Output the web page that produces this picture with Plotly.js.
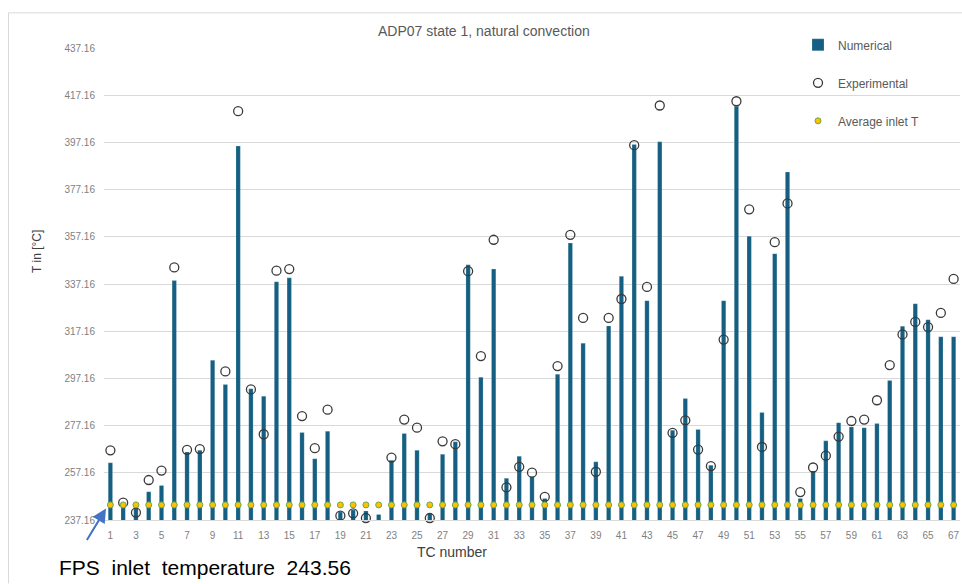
<!DOCTYPE html>
<html>
<head>
<meta charset="utf-8">
<script src="https://cdn.plot.ly/plotly-3.0.1.min.js"></script>
<style>html,body{margin:0;padding:0;background:#fff;}#chart{width:962px;height:584px;}</style>
</head>
<body>
<div id="chart"></div>
<script>
const tcNumbers = [1,2,3,4,5,6,7,8,9,10,11,12,13,14,15,16,17,18,19,20,21,22,23,24,25,26,27,28,29,30,31,32,33,34,35,36,37,38,39,40,41,42,43,44,45,46,47,48,49,50,51,52,53,54,55,56,57,58,59,60,61,62,63,64,65,66,67];

const numerical = [
  261.4, 244.2, 242.8, 249.1, 251.8, 338.6, 266.0, 266.7, 304.8, 294.6,
  395.6, 292.8, 289.6, 338.1, 339.8, 274.2, 263.1, 274.8, 240.5, 241.4,
  241.0, 239.5, 262.5, 273.8, 266.7, 240.0, 265.0, 270.3, 345.3, 297.7,
  343.5, 254.8, 264.2, 255.5, 246.3, 298.9, 354.5, 312.1, 261.8, 319.4,
  340.4, 396.3, 330.1, 397.4, 275.2, 288.6, 275.5, 260.4, 330.1, 412.5,
  357.4, 282.7, 350.0, 384.6, 246.3, 257.9, 270.7, 278.4, 276.6, 276.2,
  278.0, 296.3, 319.3, 328.8, 322.0, 314.8, 314.8
];

const experimental = [
  266.7, 244.5, 240.3, 254.1, 258.1, 344.2, 266.9, 267.2, null, 300.1,
  410.4, 292.5, 273.5, 342.8, 343.5, 281.2, 267.6, 283.9, 239.0, 240.0,
  238.0, null, 263.6, 279.7, 276.3, 238.0, 270.5, 269.3, 342.6, 306.6,
  355.9, 251.0, 259.7, 257.2, 247.0, 302.4, 358.0, 322.8, 257.6, 322.8,
  330.8, 396.0, 335.9, 412.8, 274.1, 279.4, 267.0, 260.0, 313.6, 414.6,
  368.8, 268.1, 354.9, 371.3, 249.0, 259.4, 264.4, 272.5, 279.1, 279.7,
  287.9, 302.8, 315.8, 321.1, 318.9, 324.9, 339.3
];

const averageInletT = [
  243.56, 243.56, 243.56, 243.56, 243.56, 243.56, 243.56, 243.56, 243.56, 243.56,
  243.56, 243.56, 243.56, 243.56, 243.56, 243.56, 243.56, 243.56, 243.56, 243.56,
  243.56, 243.56, 243.56, 243.56, 243.56, 243.56, 243.56, 243.56, 243.56, 243.56,
  243.56, 243.56, 243.56, 243.56, 243.56, 243.56, 243.56, 243.56, 243.56, 243.56,
  243.56, 243.56, 243.56, 243.56, 243.56, 243.56, 243.56, 243.56, 243.56, 243.56,
  243.56, 243.56, 243.56, 243.56, 243.56, 243.56, 243.56, 243.56, 243.56, 243.56,
  243.56, 243.56, 243.56, 243.56, 243.56, 243.56, 243.56
];

const xTickVals = [1,3,5,7,9,11,13,15,17,19,21,23,25,27,29,31,33,35,37,39,41,43,45,47,49,51,53,55,57,59,61,63,65,67];
const yTickVals = [237.16, 257.16, 277.16, 297.16, 317.16, 337.16, 357.16, 377.16, 397.16, 417.16, 437.16];
const yTickText = ['237.16','257.16','277.16','297.16','317.16','337.16','357.16','377.16','397.16','417.16','437.16'];

const seriesNames = ['Numerical', 'Experimental', 'Average inlet T'];
const chartTitle = 'ADP07 state 1, natural convection';
const xTitle = 'TC number';
const yTitle = 'T in [°C]';
const noteText = 'FPS\u00a0\u00a0inlet\u00a0\u00a0temperature\u00a0\u00a0243.56';

const baseFont = 'Liberation Sans, Arial, sans-serif';

const traces = [
  {
    type: 'bar', name: seriesNames[0], x: tcNumbers, y: numerical,
    width: 0.34, legendgroup: 'a',
    marker: {color: '#156082', line: {color: 'rgba(255,255,255,0.35)', width: 0.5}},
    hoverinfo: 'x+y'
  },
  {
    type: 'scatter', mode: 'markers', name: seriesNames[1], x: tcNumbers, y: experimental,
    legendgroup: 'b', cliponaxis: false,
    marker: {symbol: 'circle-open', size: 9, color: '#3a3a3a', line: {width: 1.3, color: '#3a3a3a'}}
  },
  {
    type: 'scatter', mode: 'markers', name: seriesNames[2], x: tcNumbers, y: averageInletT,
    legendgroup: 'c', cliponaxis: false,
    marker: {symbol: 'circle', size: 6, color: '#FFC000', line: {width: 1, color: '#6aa84f'}}
  }
];

const L = 104, R = 960, T = 47.7, B = 520.5;
const W = R - L, H = B - T;
function px(x) { return (x - L) / W; }
function py(y) { return (B - y) / H; }

const layout = {
  width: 962, height: 584,
  paper_bgcolor: '#ffffff', plot_bgcolor: '#ffffff',
  margin: {l: L, r: 962 - R, t: T, b: 584 - B, pad: 0},
  font: {family: baseFont, color: '#7f7f7f', size: 10},
  title: {
    text: chartTitle, font: {family: baseFont, size: 14, color: '#595959'},
    xref: 'container', yref: 'container', x: 0.503, y: 1 - 31 / 584,
    xanchor: 'center', yanchor: 'middle'
  },
  showlegend: true,
  legend: {
    x: px(798), y: py(30), xanchor: 'left', yanchor: 'top',
    bgcolor: 'rgba(0,0,0,0)', borderwidth: 0,
    font: {family: baseFont, size: 12, color: '#595959'},
    tracegroupgap: 19, traceorder: 'grouped'
  },
  xaxis: {
    type: 'linear', range: [0.5, 67.5],
    tickmode: 'array', tickvals: xTickVals, ticktext: xTickVals.map(String),
    showgrid: false, zeroline: false,
    showline: true, linecolor: '#D9D9D9', linewidth: 1,
    ticks: '', tickfont: {family: baseFont, size: 10, color: '#7f7f7f'},
    ticklabelstandoff: 6
  },
  yaxis: {
    range: [237.16, 437.16],
    tickmode: 'array', tickvals: yTickVals, ticktext: yTickText,
    showgrid: true, gridcolor: '#D9D9D9', gridwidth: 1,
    zeroline: false, showline: false, ticks: '',
    tickfont: {family: baseFont, size: 10, color: '#7f7f7f'},
    ticklabelstandoff: 8
  },
  bargap: 0,
  shapes: [
    {type: 'line', xref: 'paper', yref: 'paper', x0: px(8.5), x1: px(8.5), y0: py(12.5), y1: py(584), line: {color: '#D9D9D9', width: 1}},
    {type: 'line', xref: 'paper', yref: 'paper', x0: px(8.5), x1: px(962), y0: py(12.5), y1: py(12.5), line: {color: '#D9D9D9', width: 1}}
  ],
  annotations: [
    {
      text: yTitle, xref: 'paper', yref: 'paper', x: px(37), y: py(252),
      xanchor: 'center', yanchor: 'middle', textangle: -90, showarrow: false,
      font: {family: baseFont, size: 12, color: '#404040'}
    },
    {
      text: xTitle, xref: 'paper', yref: 'paper', x: px(452), y: py(553),
      xanchor: 'center', yanchor: 'middle', showarrow: false,
      font: {family: baseFont, size: 14, color: '#404040'}
    },
    {
      text: '', xref: 'paper', yref: 'paper', x: px(106), y: py(509),
      showarrow: true, ax: -20, ay: 33, axref: 'pixel', ayref: 'pixel',
      arrowhead: 2, arrowsize: 1.4, arrowwidth: 2, arrowcolor: '#4472C4'
    },
    {
      text: noteText, xref: 'paper', yref: 'paper', x: px(204.5), y: py(568),
      xanchor: 'center', yanchor: 'middle', showarrow: false,
      font: {family: baseFont, size: 21, color: '#000000'}
    }
  ]
};

Plotly.newPlot('chart', traces, layout, {displayModeBar: false, staticPlot: true});
</script>
</body>
</html>
